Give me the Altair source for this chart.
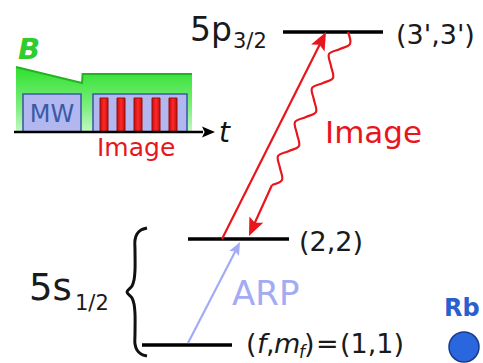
import altair as alt
import pandas as pd

W, H = 483, 363
FONT = "DejaVu Sans"

# ---------------- data (diagram coordinates, pixels, y downwards) ----------
# energy levels
level_name = ["5p3/2 (3',3')", "5s1/2 (2,2)", "5s1/2 (1,1)"]
level_x1 = [283, 188, 142]
level_x2 = [383, 289, 232]
level_y = [32, 239, 345]

# timing inset: time axis
taxis_x1 = [14]
taxis_x2 = [203]
taxis_y = [132]

# B-field envelope (top edge) above the time axis
bfield_x = [16, 82, 82.6, 192]
bfield_y = [67, 83, 74, 74]
bfield_base = [132, 132, 132, 132]

# pulse boxes (MW, Image)
box_label = ["MW", "Image"]
box_x1 = [23, 93]
box_x2 = [81, 187]
box_y1 = [94, 94]
box_y2 = [132, 132]

# imaging light pulses
pulse_x1 = [100, 117, 134, 152, 169]
pulse_x2 = [108, 125, 142, 160, 177]
pulse_y1 = [98, 98, 98, 98, 98]
pulse_y2 = [132, 132, 132, 132, 132]

# transitions: straight shafts
shaft_name = ["image_up", "arp", "decay_tail"]
shaft_x1 = [222, 188, 272]
shaft_y1 = [239, 343, 185]
shaft_x2 = [320, 236, 252]
shaft_y2 = [44, 250, 229]

# spontaneous-decay squiggle
wave_x = [348, 350, 340, 329, 331, 333, 323, 312, 314, 316, 306, 295, 297,
          299, 289, 278, 280, 282, 272]
wave_y = [32, 44, 49, 54, 66, 78, 83, 88, 100, 112, 117, 122, 134,
          146, 151, 156, 168, 180, 185]

# curly brace grouping the 5s1/2 levels
brace_x = [147, 141, 137, 135, 135, 135, 134, 132, 127, 132, 134, 135, 135,
           135, 137, 141, 147]
brace_y = [228, 230, 234, 240, 250, 270, 280, 286, 292, 298, 304, 314, 334,
           344, 350, 354, 356]

# arrow heads: tip position and direction (deg, clockwise from up)
head_name = ["image_up", "decay", "arp", "time"]
head_x = [326, 249, 240, 215]
head_y = [32, 236, 242, 132]
head_angle = [27, 204, 27, 90]

# texts
lvl_text = ["(3',3')", "(2,2)"]
lvl_text_x = [396, 299]
lvl_text_y = [44, 251]

upper_term, upper_term_x, upper_term_y = ["5p"], [190], [41]
upper_sub, upper_sub_x, upper_sub_y = ["3/2"], [233], [48]
lower_term, lower_term_x, lower_term_y = ["5s"], [29], [300]
lower_sub, lower_sub_x, lower_sub_y = ["1/2"], [75], [310]

ground_norm = ["(", ",", ")", "=", "(1,1)"]
ground_norm_x = [246, 266, 304, 316, 340]
ground_ital = ["f", "m"]
ground_ital_x = [257, 274]
ground_sub = ["f"]
ground_sub_x = [299]
ground_y = 353

# Rb atom marker
atom_x = [464]
atom_y = [347]

# ---------------- helpers ----------------------------------------------------
xs = alt.Scale(domain=[0, W], nice=False, zero=False)
ys = alt.Scale(domain=[0, H], nice=False, zero=False, reverse=True)


def X(f):
    return alt.X(f, type="quantitative", scale=xs, axis=None)


def Y(f):
    return alt.Y(f, type="quantitative", scale=ys, axis=None)


def text_layer(texts, xv, yv, size, color, style="normal", weight="normal", align="left"):
    df = pd.DataFrame({"t": texts, "x": xv, "y": yv})
    return alt.Chart(df).mark_text(
        font=FONT, fontSize=size, color=color, fontStyle=style,
        fontWeight=weight, align=align, baseline="alphabetic"
    ).encode(x=X("x"), y=Y("y"), text="t:N")


RED = "#e8161c"
ARPC = "#a3abf3"
GREEN_TXT = "#2ecc2e"
BLUE = "#2b5fcf"

layers = []

# green B-field area with gradient
bdf = pd.DataFrame({"x": bfield_x, "y": bfield_y, "b": bfield_base, "i": range(len(bfield_x))})
green_grad = alt.LinearGradient(
    gradient="linear",
    stops=[alt.GradientStop(color="#2ee02e", offset=0),
           alt.GradientStop(color="#7cee7c", offset=0.6),
           alt.GradientStop(color="#c4f8c4", offset=1)],
    x1=0, x2=0, y1=0, y2=1)
layers.append(alt.Chart(bdf).mark_area(fill=green_grad, opacity=1).encode(
    x=X("x"), y=Y("y"), y2=alt.Y2("b")))
layers.append(alt.Chart(bdf).mark_line(color="#22b322", strokeWidth=2).encode(
    x=X("x"), y=Y("y"), order=alt.Order("i:Q")))

# pulse boxes
boxdf = pd.DataFrame({"n": box_label, "x1": box_x1, "x2": box_x2, "y1": box_y1, "y2": box_y2})
layers.append(alt.Chart(boxdf).mark_rect(fill="#b3b7ef", stroke="#3c5ca6", strokeWidth=1.6).encode(
    x=X("x1"), x2=alt.X2("x2"), y=Y("y1"), y2=alt.Y2("y2")))

# red imaging pulses
pdf = pd.DataFrame({"x1": pulse_x1, "x2": pulse_x2, "y1": pulse_y1, "y2": pulse_y2})
red_grad = alt.LinearGradient(
    gradient="linear",
    stops=[alt.GradientStop(color="#c40d0d", offset=0),
           alt.GradientStop(color="#ff2a2a", offset=0.5),
           alt.GradientStop(color="#c40d0d", offset=1)],
    x1=0, x2=1, y1=0, y2=0)
layers.append(alt.Chart(pdf).mark_rect(fill=red_grad, stroke="#9a0c0c", strokeWidth=1).encode(
    x=X("x1"), x2=alt.X2("x2"), y=Y("y1"), y2=alt.Y2("y2")))

# time axis
tdf = pd.DataFrame({"x1": taxis_x1, "x2": taxis_x2, "y": taxis_y})
layers.append(alt.Chart(tdf).mark_rule(color="black", strokeWidth=2.5).encode(
    x=X("x1"), x2=alt.X2("x2"), y=Y("y")))

# energy levels
ldf = pd.DataFrame({"n": level_name, "x1": level_x1, "x2": level_x2, "y": level_y})
layers.append(alt.Chart(ldf).mark_rule(color="black", strokeWidth=3.5).encode(
    x=X("x1"), x2=alt.X2("x2"), y=Y("y")))

# brace
brdf = pd.DataFrame({"x": brace_x, "y": brace_y, "i": range(len(brace_x))})
layers.append(alt.Chart(brdf).mark_line(color="#111111", strokeWidth=3, interpolate="catmull-rom").encode(
    x=X("x"), y=Y("y"), order=alt.Order("i:Q")))

# shafts
sdf = pd.DataFrame({"n": shaft_name, "x1": shaft_x1, "y1": shaft_y1, "x2": shaft_x2, "y2": shaft_y2})
layers.append(alt.Chart(sdf[sdf.n != "arp"]).mark_rule(color=RED, strokeWidth=2.2).encode(
    x=X("x1"), y=Y("y1"), x2=alt.X2("x2"), y2=alt.Y2("y2")))
layers.append(alt.Chart(sdf[sdf.n == "arp"]).mark_rule(color=ARPC, strokeWidth=2.2).encode(
    x=X("x1"), y=Y("y1"), x2=alt.X2("x2"), y2=alt.Y2("y2")))

# squiggle
wdf = pd.DataFrame({"x": wave_x, "y": wave_y, "i": range(len(wave_x))})
layers.append(alt.Chart(wdf).mark_line(color=RED, strokeWidth=2.2, interpolate="catmull-rom").encode(
    x=X("x"), y=Y("y"), order=alt.Order("i:Q")))

# arrow heads
HEAD = "M0,0L0.42,1L0,0.8L-0.42,1Z"
hdf = pd.DataFrame({"n": head_name, "x": head_x, "y": head_y, "a": head_angle})
head_style = {"image_up": (RED, 1296), "decay": (RED, 1296), "arp": (ARPC, 676), "time": ("black", 676)}
for name, (col, sz) in head_style.items():
    layers.append(alt.Chart(hdf[hdf.n == name]).mark_point(
        shape=HEAD, filled=True, fill=col, strokeWidth=0, size=sz, opacity=1).encode(
        x=X("x"), y=Y("y"), angle=alt.Angle("a:Q", scale=None)))

# texts
layers.append(text_layer(upper_term, upper_term_x, upper_term_y, 33, "#1a1a1a"))
layers.append(text_layer(upper_sub, upper_sub_x, upper_sub_y, 21, "#1a1a1a"))
layers.append(text_layer(lower_term, lower_term_x, lower_term_y, 37, "#1a1a1a"))
layers.append(text_layer(lower_sub, lower_sub_x, lower_sub_y, 21, "#1a1a1a"))
layers.append(text_layer(lvl_text, lvl_text_x, lvl_text_y, 27, "#1a1a1a"))
layers.append(text_layer(ground_norm, ground_norm_x, [ground_y] * len(ground_norm), 27, "#1a1a1a"))
layers.append(text_layer(ground_ital, ground_ital_x, [ground_y] * 2, 27, "#1a1a1a", style="italic"))
layers.append(text_layer(ground_sub, ground_sub_x, [ground_y + 5], 17, "#1a1a1a", style="italic"))
layers.append(text_layer(["Image"], [325], [143], 31, RED))
layers.append(text_layer(["ARP"], [232], [305], 34, ARPC))
layers.append(text_layer(["MW"], [52], [122], 24, "#3a5aa6", align="center"))
layers.append(text_layer(["Image"], [97], [156], 25, RED))
layers.append(text_layer(["t"], [219], [142], 28, "#111111", style="italic"))
layers.append(text_layer(["B"], [18], [59], 29, GREEN_TXT, style="italic", weight="bold"))
layers.append(text_layer(["Rb"], [444], [316], 24, BLUE, weight="bold"))

# Rb atom
adf = pd.DataFrame({"x": atom_x, "y": atom_y})
layers.append(alt.Chart(adf).mark_point(
    shape="circle", filled=True, fill="#2a66dd", stroke="#173b8c", strokeWidth=1.5,
    size=900, opacity=1).encode(x=X("x"), y=Y("y")))

chart = alt.layer(*layers).properties(
    width=W, height=H, padding=0, autosize=alt.AutoSizeParams(type="none"),
    background="white"
).configure_view(strokeWidth=0)

chart.save("out.html", embed_options={"renderer": "svg", "actions": False})
